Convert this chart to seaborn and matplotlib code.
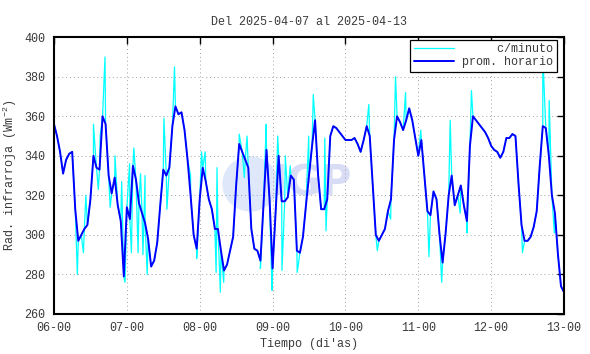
# =====================================================
# RADIACION INFRARROJA - SEMANA 2025-04-07 / 2025-04-13
# =====================================================

import numpy as np
import pandas as pd
import matplotlib
matplotlib.use("Agg")
import matplotlib.pyplot as plt
import matplotlib.dates as mdates
from matplotlib import font_manager
from matplotlib.patches import Ellipse
import seaborn as sns

# ---------- DATA ----------

start = pd.Timestamp("2025-04-06 00:00")

# hourly mean, 06-00 .. 13-00 (169 values)
hourly_mean = [
    356, 350, 342, 331, 338, 341, 342, 313, 297, 300, 303, 305,
    318, 340, 334, 333, 360, 356, 330, 321, 329, 315, 307, 279,
    314, 308, 335, 328, 316, 311, 306, 298, 284, 287, 296, 315,
    333, 330, 334, 355, 365, 361, 362, 353, 338, 320, 300, 293,
    318, 334, 327, 318, 313, 303, 303, 292, 282, 285, 292, 299,
    325, 346, 342, 338, 334, 303, 293, 292, 287, 315, 343, 318,
    283, 312, 340, 317, 317, 319, 330, 328, 292, 291, 299, 315,
    330, 345, 358, 330, 313, 313, 318, 350, 355, 354, 352, 350,
    348, 348, 348, 349, 346, 342, 348, 355, 350, 325, 300, 297,
    300, 303, 312, 318, 348, 360, 357, 353, 358, 364, 358, 349,
    340, 348, 330, 312, 310, 322, 318, 300, 286, 301, 320, 330,
    315, 320, 325, 315, 307, 345, 360, 358, 356, 354, 352, 349,
    345, 343, 342, 339, 342, 349, 349, 351, 350, 326, 305, 297,
    297, 299, 304, 312, 335, 355, 354, 340, 320, 311, 290, 274,
    271,
]

# per-minute excursions that stand out from the hourly mean (hour, value)
spike_hours = [
    7.7, 9.7, 10.5, 13.0, 14.6, 15.2, 16.8, 18.5, 20.1, 22.3, 23.4,
    24.9, 25.5, 26.3, 27.7, 28.5, 29.3, 30.0, 30.7, 36.2, 37.2, 39.7,
    45.0, 47.0, 48.6, 49.8, 53.4, 53.7, 54.8, 55.9, 61.0, 62.7, 63.6,
    68.0, 69.9, 71.8, 73.7, 75.1, 76.2, 77.8, 80.1, 83.9, 85.4, 89.2,
    89.6, 103.7, 106.5, 110.9, 112.5, 115.8, 120.8, 123.5, 127.7, 130.5,
    133.8, 136.0, 137.5, 154.3, 161.0, 163.1, 164.8,
]
spike_values = [
    280, 291, 320, 356, 323, 350, 390, 314, 340, 327, 276,
    336, 291, 344, 291, 331, 290, 330, 280, 359, 313, 385,
    330, 288, 342, 342, 281, 334, 271, 276, 351, 329, 350,
    283, 356, 272, 350, 282, 340, 335, 281, 350, 371, 349,
    302, 366, 292, 308, 380, 372, 353, 289, 276, 358,
    311, 301, 373, 291, 391, 368, 301,
]

# ---------- BUILD TABLES ----------

hours = np.arange(len(hourly_mean))
df_hour = pd.DataFrame({
    "t": start + pd.to_timedelta(hours, unit="h"),
    "v": hourly_mean,
})

df_min = pd.DataFrame({
    "t": start + pd.to_timedelta(np.concatenate([hours, spike_hours]), unit="h"),
    "v": np.concatenate([hourly_mean, spike_values]),
}).sort_values("t")

# ---------- STYLE ----------

sns.set_style("white")

# courier-like mono font if present
installed = {f.name for f in font_manager.fontManager.ttflist}
mono = [f for f in ["Liberation Mono", "Nimbus Mono PS", "Courier New",
                    "DejaVu Sans Mono"] if f in installed]
plt.rcParams["font.family"] = mono + ["DejaVu Sans"]
plt.rcParams["mathtext.fontset"] = "custom"
plt.rcParams["mathtext.rm"] = mono[0] if mono else "DejaVu Sans"
plt.rcParams["mathtext.default"] = "regular"

TXT = "#3a3a3a"

fig, ax = plt.subplots(figsize=(5.9, 3.54), dpi=100)
fig.subplots_adjust(left=0.0915, right=0.956, bottom=0.113, top=0.895)

# ---------- WATERMARK ----------

ax.add_patch(Ellipse((0.385, 0.47), 0.11, 0.2, transform=ax.transAxes,
                     color="#dfe8fb", zorder=0, lw=0))
ax.text(0.505, 0.47, "IGP", transform=ax.transAxes, ha="center", va="center",
        fontsize=30, fontweight="bold", color="#d8dcf4", zorder=0,
        family="DejaVu Sans")

# ---------- LINES ----------

sns.lineplot(data=df_min, x="t", y="v", ax=ax, color="#00ffff", lw=0.9,
             estimator=None, sort=False, label="     c/minuto")
sns.lineplot(data=df_hour, x="t", y="v", ax=ax, color="#0000ff", lw=1.4,
             estimator=None, label="prom. horario")

# ---------- AXES ----------

ax.set_xlim(start, start + pd.Timedelta(days=7))
ax.set_ylim(260, 400)
ax.set_yticks(np.arange(260, 401, 20))
ax.xaxis.set_major_locator(mdates.DayLocator())
ax.xaxis.set_major_formatter(mdates.DateFormatter("%d-%H"))

ax.tick_params(direction="in", top=True, right=True, length=5, width=1,
               labelsize=8.5, colors="black", labelcolor=TXT, pad=6)
for s in ax.spines.values():
    s.set_linewidth(1.5)
    s.set_color("black")

ax.grid(True, ls=(0, (1, 3)), color="#a0a0a0", lw=0.7)

ax.set_title("Del 2025-04-07 al 2025-04-13", fontsize=8.5, pad=9, color=TXT)
ax.set_xlabel("Tiempo (di'as)", fontsize=8.5, color=TXT, labelpad=3)
ax.set_ylabel("Rad. infrarroja (Wm$^{-2}$)", fontsize=8.5, color=TXT,
              labelpad=4)

leg = ax.legend(loc="upper right", bbox_to_anchor=(0.986, 0.99), fontsize=8.5,
                frameon=True, fancybox=False, framealpha=1, edgecolor="black",
                handlelength=3.4, handletextpad=0.7, labelspacing=0.05,
                borderpad=0.3, borderaxespad=0)
leg.get_frame().set_linewidth(0.9)
for txt in leg.get_texts():
    txt.set_color(TXT)

fig.savefig("out.png", dpi=100)
print("Saved out.png")
